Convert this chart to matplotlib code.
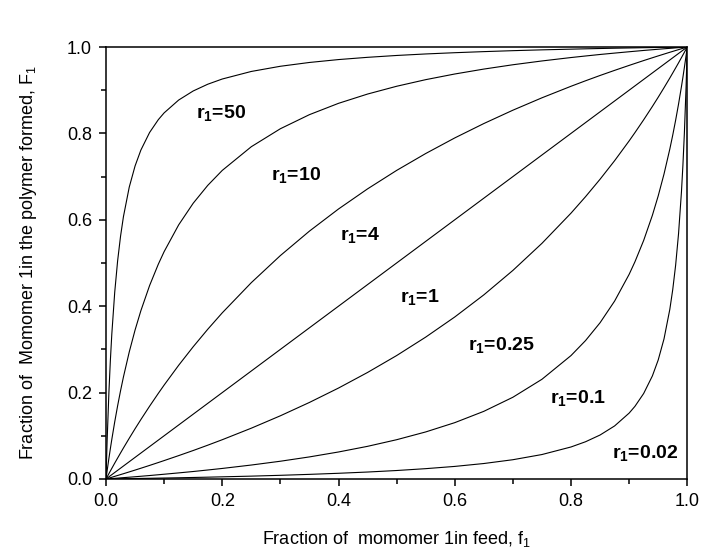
import matplotlib
matplotlib.use("Agg")
import matplotlib.pyplot as plt
from matplotlib.ticker import MultipleLocator

plt.rcParams['font.family'] = ['Liberation Sans', 'DejaVu Sans']
plt.rcParams['mathtext.fontset'] = 'custom'
plt.rcParams['mathtext.rm'] = 'Liberation Sans'
plt.rcParams['mathtext.bf'] = 'Liberation Sans:bold'
plt.rcParams['mathtext.it'] = 'Liberation Sans'

# feed fraction f1 (shared by every curve)
f1 = [0, 0.002, 0.005, 0.0075, 0.01, 0.015, 0.02, 0.025, 0.03, 0.04, 0.05, 0.06,
      0.075, 0.09, 0.1, 0.125, 0.15, 0.175, 0.2, 0.25, 0.3, 0.35, 0.4, 0.45, 0.5,
      0.55, 0.6, 0.65, 0.7, 0.75, 0.8, 0.825, 0.85, 0.875, 0.9, 0.91, 0.925, 0.94,
      0.95, 0.96, 0.97, 0.975, 0.98, 0.985, 0.99, 0.9925, 0.995, 0.998, 1.0]

# polymer fraction F1
F_r50 = [0, 0.0911, 0.2008, 0.2742, 0.3356, 0.4323, 0.5051, 0.5618, 0.6073, 0.6757,
         0.7246, 0.7614, 0.8021, 0.8318, 0.8475, 0.8772, 0.8982, 0.9138, 0.9259,
         0.9434, 0.9554, 0.9642, 0.9709, 0.9761, 0.9804, 0.9839, 0.9868, 0.9893,
         0.9915, 0.9934, 0.9950, 0.9958, 0.9965, 0.9972, 0.9978, 0.9980, 0.9984,
         0.9987, 0.9989, 0.9992, 0.9994, 0.9995, 0.9996, 0.9997, 0.9998, 0.9998,
         0.9999, 1.0, 1.0]
F_r10 = [0, 0.0196, 0.0478, 0.0703, 0.0917, 0.1322, 0.1695, 0.2041, 0.2362, 0.2941,
         0.3448, 0.3896, 0.4478, 0.4972, 0.5263, 0.5882, 0.6383, 0.6796, 0.7143,
         0.7692, 0.8108, 0.8434, 0.8696, 0.8911, 0.9091, 0.9244, 0.9375, 0.9489,
         0.9589, 0.9677, 0.9756, 0.9792, 0.9827, 0.9859, 0.9890, 0.9902, 0.9920,
         0.9937, 0.9948, 0.9959, 0.9969, 0.9974, 0.9980, 0.9985, 0.9990, 0.9992,
         0.9995, 0.9998, 1.0]
F_r4 = [0, 0.0050, 0.0124, 0.0185, 0.0246, 0.0367, 0.0485, 0.0602, 0.0718, 0.0943,
        0.1163, 0.1376, 0.1685, 0.1982, 0.2174, 0.2632, 0.3061, 0.3465, 0.3846,
        0.4545, 0.5172, 0.5738, 0.6250, 0.6716, 0.7143, 0.7534, 0.7895, 0.8228,
        0.8537, 0.8824, 0.9091, 0.9218, 0.9341, 0.9459, 0.9574, 0.9619, 0.9686,
        0.9751, 0.9794, 0.9836, 0.9878, 0.9898, 0.9919, 0.9939, 0.9960, 0.9970,
        0.9980, 0.9992, 1.0]
F_r1 = list(f1)
F_r025 = [0, 0.0008, 0.0020, 0.0030, 0.0040, 0.0061, 0.0081, 0.0102, 0.0122, 0.0164,
          0.0206, 0.0249, 0.0314, 0.0381, 0.0426, 0.0541, 0.0659, 0.0782, 0.0909,
          0.1176, 0.1463, 0.1772, 0.2105, 0.2466, 0.2857, 0.3284, 0.3750, 0.4262,
          0.4828, 0.5455, 0.6154, 0.6535, 0.6939, 0.7368, 0.7826, 0.8018, 0.8315,
          0.8624, 0.8837, 0.9057, 0.9282, 0.9398, 0.9515, 0.9633, 0.9754, 0.9815,
          0.9876, 0.9950, 1.0]
F_r01 = [0, 0.0002, 0.0005, 0.0008, 0.0010, 0.0015, 0.0020, 0.0026, 0.0031, 0.0041,
         0.0052, 0.0063, 0.0080, 0.0098, 0.0110, 0.0141, 0.0173, 0.0208, 0.0244,
         0.0323, 0.0411, 0.0511, 0.0625, 0.0756, 0.0909, 0.1089, 0.1304, 0.1566,
         0.1892, 0.2308, 0.2857, 0.3204, 0.3617, 0.4118, 0.4737, 0.5028, 0.5522,
         0.6104, 0.6552, 0.7059, 0.7638, 0.7959, 0.8305, 0.8678, 0.9083, 0.9297,
         0.9522, 0.9804, 1.0]
F_r002 = [0, 0.0000, 0.0001, 0.0002, 0.0002, 0.0003, 0.0004, 0.0005, 0.0006, 0.0008,
          0.0011, 0.0013, 0.0016, 0.0020, 0.0022, 0.0028, 0.0035, 0.0042, 0.0050,
          0.0066, 0.0085, 0.0107, 0.0132, 0.0161, 0.0196, 0.0239, 0.0291, 0.0358,
          0.0446, 0.0566, 0.0741, 0.0862, 0.1018, 0.1228, 0.1525, 0.1682, 0.1979,
          0.2386, 0.2754, 0.3243, 0.3927, 0.4382, 0.4949, 0.5677, 0.6644, 0.7258,
          0.7992, 0.9089, 1.0]

curves = [F_r50, F_r10, F_r4, F_r1, F_r025, F_r01, F_r002]
labels = ["50", "10", "4", "1", "0.25", "0.1", "0.02"]
label_x = [0.155, 0.284, 0.403, 0.505, 0.622, 0.763, 0.870]
label_y = [0.835, 0.692, 0.553, 0.410, 0.299, 0.175, 0.048]

fig = plt.figure(figsize=(7.02, 5.51), dpi=100)
ax = fig.add_axes([0.151, 0.1307, 0.828, 0.784])

for F in curves:
    ax.plot(f1, F, color='black', lw=0.8)

for txt, x, y in zip(labels, label_x, label_y):
    ax.text(x, y, r'r$_\mathbf{1}$=' + txt, fontsize=14, fontweight='bold',
            ha='left', va='baseline')

ax.set_xlim(0, 1)
ax.set_ylim(0, 1)
ax.xaxis.set_major_locator(MultipleLocator(0.2))
ax.xaxis.set_minor_locator(MultipleLocator(0.1))
ax.yaxis.set_major_locator(MultipleLocator(0.2))
ax.yaxis.set_minor_locator(MultipleLocator(0.1))
ax.xaxis.set_major_formatter(plt.FormatStrFormatter('%.1f'))
ax.yaxis.set_major_formatter(plt.FormatStrFormatter('%.1f'))
ax.tick_params(which='major', direction='out', length=5, width=1.1, labelsize=13, pad=5)
ax.tick_params(which='minor', direction='out', length=3.5, width=1.1)
for s in ax.spines.values():
    s.set_linewidth(1.1)

ax.set_xlabel(r'Fraction of  momomer 1in feed, f$_\mathrm{1}$', fontsize=13, labelpad=14)
ax.set_ylabel(r'Fraction of  Momomer 1in the polymer formed, F$_\mathrm{1}$', fontsize=13, labelpad=20)

fig.savefig('out.png', dpi=100)
